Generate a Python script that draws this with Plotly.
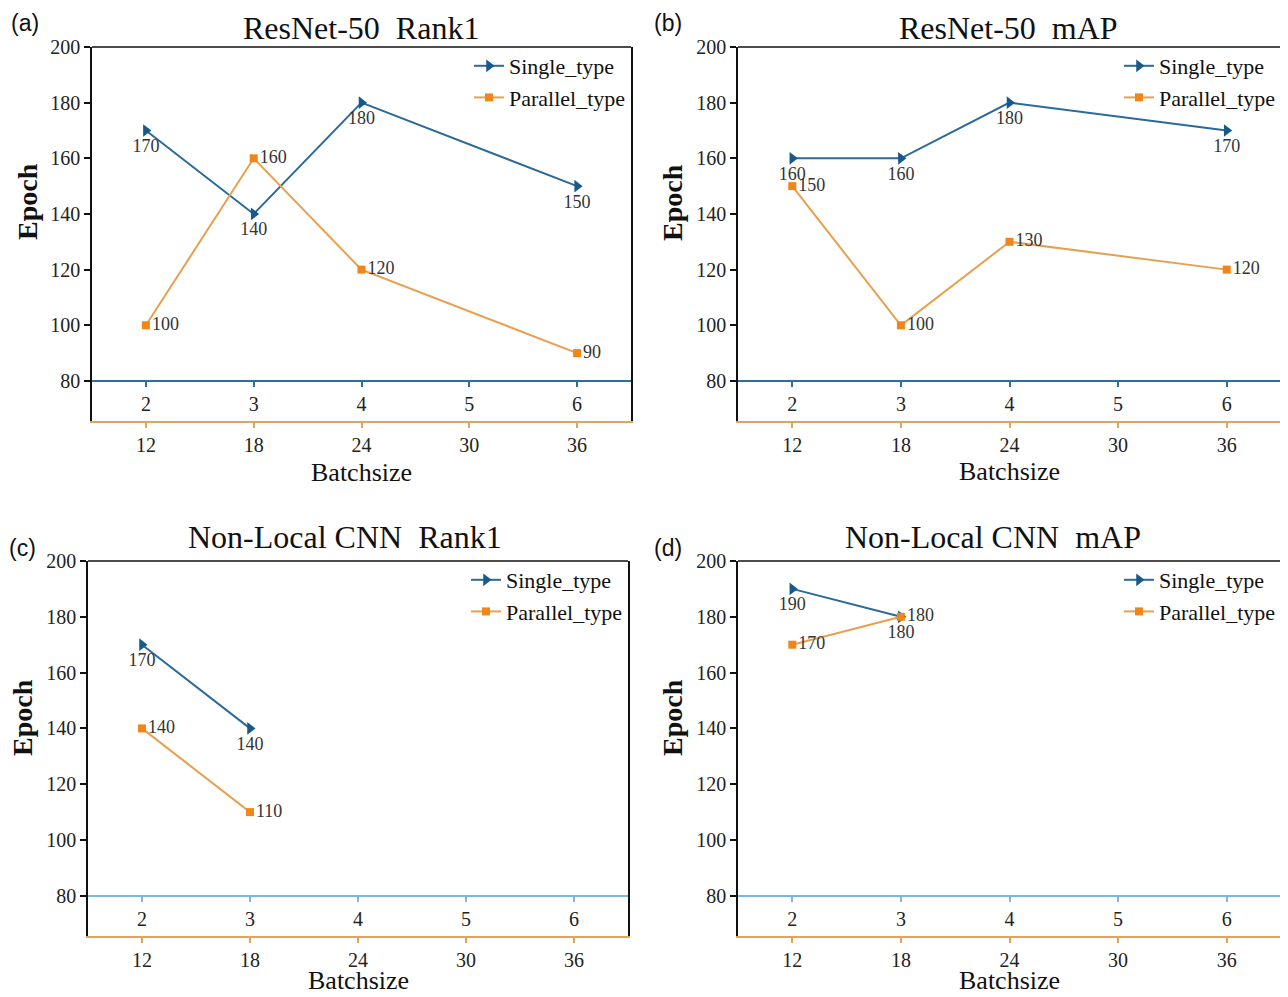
import plotly.graph_objects as go

# page offset of the plot div inside the browser window (body margin)
OX, OY = 8, 8
W, H = 1280, 989

# ---- data ----
batch_top = [2, 3, 4, 5, 6]
batch_bottom = [12, 18, 24, 30, 36]
y_ticks = [80, 100, 120, 140, 160, 180, 200]

titles = ["ResNet-50\u00a0 Rank1", "ResNet-50\u00a0 mAP",
          "Non-Local CNN\u00a0 Rank1", "Non-Local CNN\u00a0 mAP"]
letters = ["(a)", "(b)", "(c)", "(d)"]
series_names = ["Single_type", "Parallel_type"]

a_x = [12, 18, 24, 36]
a_single = [170, 140, 180, 150]
a_parallel = [100, 160, 120, 90]

b_x = [12, 18, 24, 36]
b_single = [160, 160, 180, 170]
b_parallel = [150, 100, 130, 120]

c_x = [12, 18]
c_single = [170, 140]
c_parallel = [140, 110]

d_x = [12, 18]
d_single = [190, 180]
d_parallel = [170, 180]

panels_data = [(a_x, a_single, a_parallel), (b_x, b_single, b_parallel),
               (c_x, c_single, c_parallel), (d_x, d_single, d_parallel)]

# ---- layout geometry (window pixels) ----
boxes = [(92, 631, 47, 421), (738, 1281, 47, 421),
         (88, 628, 561, 936), (738, 1281, 561, 936)]
inner_colors = ["#2F6F96", "#2F6F96", "#7DB6DE", "#7DB6DE"]
# (x, y, yanchor)
title_pos = [(361, 8, "top"), (1008, 8, "top"), (345, 537, "middle"), (993, 537, "middle")]
letter_pos = [(25, 8, "top"), (668, 8, "top"), (22, 548, "middle"), (668, 548, "middle")]
epoch_pos = [(28, 202), (672, 203), (22, 718), (672, 718)]
batch_title_pos = [(361, 472, "middle"), (1009, 471, "middle"),
                   (358, 997, "bottom"), (1009, 997, "bottom")]

XR = [9, 39]
YR = [65.6, 200]
SERIF = "Liberation Serif"
C_SINGLE_LINE = "#2B6A98"
C_SINGLE_MARK = "#17598A"
C_PAR_LINE = "#E9A04E"
C_PAR_MARK = "#F08519"
C_ORANGE_AX = "#E3A457"


def px(x):
    return (x - OX) / W


def py(y):
    return 1 - (y - OY) / H


fig = go.Figure()
layout = dict(width=W, height=H, margin=dict(l=0, r=0, t=0, b=0),
              paper_bgcolor="white", plot_bgcolor="white",
              showlegend=True, annotations=[], shapes=[])

for i, (xs, s_vals, p_vals) in enumerate(panels_data):
    xb_n = 2 * i + 1
    xi_n = 2 * i + 2
    y_n = i + 1
    xb = "x" if xb_n == 1 else f"x{xb_n}"
    xi = f"x{xi_n}"
    yy = "y" if y_n == 1 else f"y{y_n}"
    xb_key = "xaxis" if xb_n == 1 else f"xaxis{xb_n}"
    xi_key = f"xaxis{xi_n}"
    y_key = "yaxis" if y_n == 1 else f"yaxis{y_n}"
    leg_key = "legend" if i == 0 else f"legend{i + 1}"

    x0, x1, ytop, ybot = boxes[i]
    xdom = [px(x0), px(x1)]
    ydom = [py(ybot), py(ytop)]

    fig.add_trace(go.Scatter(
        x=xs, y=s_vals, name=series_names[0], xaxis=xb, yaxis=yy,
        mode="lines+markers+text", text=[str(v) for v in s_vals],
        textposition="bottom center",
        textfont=dict(family=SERIF, size=18, color="#333333"),
        line=dict(color=C_SINGLE_LINE, width=2),
        marker=dict(symbol="triangle-right", size=11, color=C_SINGLE_MARK),
        legend=leg_key, cliponaxis=False))
    fig.add_trace(go.Scatter(
        x=xs, y=p_vals, name=series_names[1], xaxis=xb, yaxis=yy,
        mode="lines+markers+text", text=[str(v) for v in p_vals],
        textposition="middle right",
        textfont=dict(family=SERIF, size=18, color="#333333"),
        line=dict(color=C_PAR_LINE, width=2),
        marker=dict(symbol="square", size=8, color=C_PAR_MARK),
        legend=leg_key, cliponaxis=False))
    # trace that attaches the inner (2..6) axis
    fig.add_trace(go.Scatter(
        x=batch_top, y=[None] * len(batch_top), xaxis=xi, yaxis=yy,
        mode="markers", marker=dict(opacity=0), showlegend=False,
        hoverinfo="skip"))

    inner_pos = ydom[0] + (80 - YR[0]) / (YR[1] - YR[0]) * (ydom[1] - ydom[0])

    layout[xb_key] = dict(
        domain=xdom, range=XR, anchor=yy, tickvals=batch_bottom,
        ticks="outside", ticklen=5, tickwidth=1.5, tickcolor=C_ORANGE_AX,
        showline=True, linecolor=C_ORANGE_AX, linewidth=2, automargin=False,
        showgrid=False, zeroline=False, ticklabelstandoff=0,
        tickfont=dict(family=SERIF, size=20, color="#222222"))
    layout[xi_key] = dict(
        overlaying=xb, anchor="free", position=inner_pos, side="bottom",
        range=[XR[0] / 6, XR[1] / 6], tickvals=batch_top, automargin=False,
        ticks="outside", ticklen=5, tickwidth=1.5, tickcolor=inner_colors[i],
        showline=True, linecolor=inner_colors[i], linewidth=2,
        showgrid=False, zeroline=False, ticklabelstandoff=0,
        tickfont=dict(family=SERIF, size=20, color="#222222"))
    layout[y_key] = dict(
        domain=ydom, range=YR, anchor=xb, tickvals=y_ticks, automargin=False,
        ticks="outside", ticklen=6, tickwidth=1.5, tickcolor="#111111",
        showline=True, linecolor="#111111", linewidth=1.5, mirror=True,
        showgrid=False, zeroline=False,
        tickfont=dict(family=SERIF, size=20, color="#222222"))
    layout[leg_key] = dict(
        x=xdom[1], xanchor="right", y=py(ytop - 2), yanchor="top",
        bgcolor="rgba(0,0,0,0)", borderwidth=0, tracegroupgap=0,
        font=dict(family=SERIF, size=22, color="#111111"))

    layout["shapes"].append(dict(
        type="line", xref=f"{xb} domain", yref=f"{yy} domain",
        x0=0, x1=1, y0=1, y1=1, line=dict(color="#111111", width=1.5)))

    tx, ty, tya = title_pos[i]
    layout["annotations"].append(dict(
        text=titles[i], x=px(tx), y=py(ty), xref="paper", yref="paper",
        showarrow=False, xanchor="center", yanchor=tya,
        font=dict(family=SERIF, size=32, color="#111111")))
    lx, ly, lya = letter_pos[i]
    layout["annotations"].append(dict(
        text=letters[i], x=px(lx), y=py(ly), xref="paper", yref="paper",
        showarrow=False, xanchor="center", yanchor=lya,
        font=dict(family="Liberation Sans", size=23, color="#111111")))
    ex, ey = epoch_pos[i]
    layout["annotations"].append(dict(
        text="<b>Epoch</b>", x=px(ex), y=py(ey), xref="paper", yref="paper",
        showarrow=False, xanchor="center", yanchor="middle", textangle=-90,
        font=dict(family=SERIF, size=28, color="#111111")))
    bx, by, bya = batch_title_pos[i]
    layout["annotations"].append(dict(
        text="Batchsize", x=px(bx), y=py(by), xref="paper", yref="paper",
        showarrow=False, xanchor="center", yanchor=bya,
        font=dict(family=SERIF, size=26, color="#111111")))

fig.update_layout(**layout)
fig.write_html("out.html")
